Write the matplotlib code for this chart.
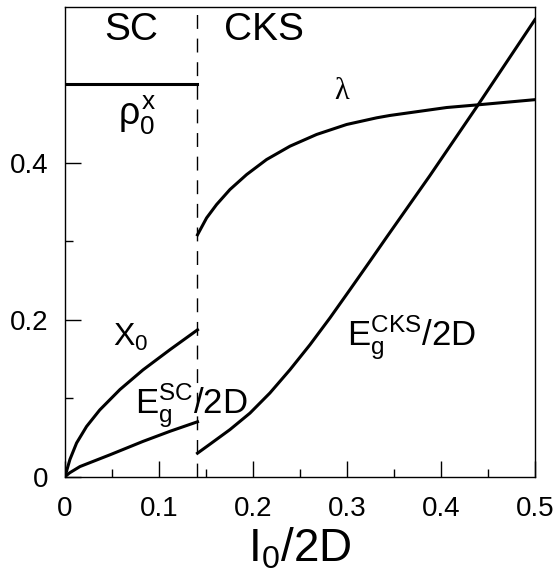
import matplotlib
matplotlib.use("Agg")
import matplotlib.pyplot as plt
from matplotlib.ticker import MultipleLocator, FuncFormatter

plt.rcParams['font.family'] = ['Liberation Sans', 'DejaVu Sans']
plt.rcParams['mathtext.fontset'] = 'custom'
plt.rcParams['mathtext.rm'] = 'Liberation Sans'
plt.rcParams['mathtext.it'] = 'Liberation Sans'
plt.rcParams['mathtext.bf'] = 'Liberation Sans:bold'

# transition point SC -> CKS
x_c = 0.141

# rho_0^x (SC side)
rho_x = [0.0, 0.141]
rho_y = [0.5, 0.5]

# X_0 (SC side)
x0_x = [0.0, 0.0053, 0.0124, 0.023, 0.037, 0.0585, 0.083, 0.112, 0.141]
x0_y = [0.0, 0.022, 0.043, 0.064, 0.085, 0.111, 0.136, 0.162, 0.187]

# Eg^SC/2D
egsc_x = [0.0, 0.005, 0.016, 0.048, 0.083, 0.112, 0.141]
egsc_y = [0.0, 0.005, 0.013, 0.028, 0.045, 0.058, 0.070]

# lambda (CKS side)
lam_x = [0.141, 0.1507, 0.1613, 0.1755, 0.1933, 0.2145, 0.2394, 0.2677,
         0.2996, 0.3316, 0.3457, 0.406, 0.44, 0.5]
lam_y = [0.308, 0.3295, 0.3465, 0.3656, 0.3847, 0.4038, 0.4208, 0.4357,
         0.4484, 0.4569, 0.4599, 0.470, 0.4735, 0.480]

# Eg^CKS/2D
egcks_x = [0.141, 0.1543, 0.1755, 0.1968, 0.218, 0.2394, 0.2606, 0.2819,
           0.3032, 0.3245, 0.3422, 0.388, 0.439, 0.5]
egcks_y = [0.030, 0.0415, 0.060, 0.081, 0.1066, 0.1363, 0.168, 0.2022,
           0.2382, 0.2745, 0.305, 0.383, 0.4726, 0.582]

fig = plt.figure(figsize=(5.55, 5.8), dpi=100)
ax = fig.add_axes([0.117, 0.178, 0.847, 0.81])

lw = 2.2
ax.plot(rho_x, rho_y, color='black', lw=lw)
ax.plot(x0_x, x0_y, color='black', lw=lw)
ax.plot(egsc_x, egsc_y, color='black', lw=lw)
ax.plot(lam_x, lam_y, color='black', lw=lw)
ax.plot(egcks_x, egcks_y, color='black', lw=lw)
ax.axvline(x_c, color='black', lw=1.0, linestyle=(0, (10, 7)))

ax.set_xlim(0, 0.5)
ax.set_ylim(0, 0.598)
ax.xaxis.set_major_locator(MultipleLocator(0.1))
ax.xaxis.set_minor_locator(MultipleLocator(0.05))
ax.yaxis.set_major_locator(MultipleLocator(0.2))
ax.yaxis.set_minor_locator(MultipleLocator(0.1))
fmt = FuncFormatter(lambda v, p: '0' if abs(v) < 1e-9 else ('%g' % round(v, 3)))
ax.xaxis.set_major_formatter(fmt)
ax.yaxis.set_major_formatter(fmt)
ax.tick_params(which='both', direction='in', labelsize=20, width=1)
ax.tick_params(axis='x', which='major', length=11.5, pad=14)
ax.tick_params(axis='y', which='major', length=11.5, pad=12)
ax.tick_params(which='minor', length=5.8)
for s in ax.spines.values():
    s.set_linewidth(1.0)

ax.set_xlabel(r'$\mathrm{I_0/2D}$', fontsize=33, labelpad=3)

ax.text(0.070, 0.569, 'SC', fontsize=28, ha='center', va='center')
ax.text(0.212, 0.569, 'CKS', fontsize=28, ha='center', va='center')
ax.text(0.077, 0.461, r'$\rho_0^{\mathrm{x}}$', fontsize=27, ha='center', va='center')
ax.text(0.294, 0.49, 'λ', fontsize=22, ha='center', va='center', family='Liberation Serif')
ax.text(0.051, 0.167, r'$\mathrm{X_0}$', fontsize=23, ha='left', va='baseline')
ax.text(0.0745, 0.080, r'$\mathrm{E_g^{SC}/2D}$', fontsize=25, ha='left', va='baseline')
ax.text(0.300, 0.166, r'$\mathrm{E_g^{CKS}/2D}$', fontsize=25, ha='left', va='baseline')

fig.savefig('out.png', dpi=100)
